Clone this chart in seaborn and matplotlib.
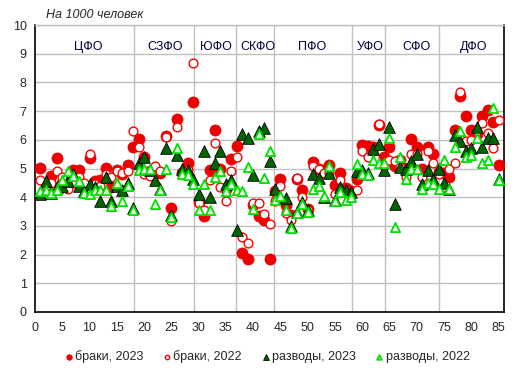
import numpy as np
import pandas as pd
import seaborn as sns
import matplotlib
matplotlib.use("Agg")
import matplotlib.pyplot as plt

# Номера регионов (1..85)
regions = list(range(1, 86))

# Браки, 2023 (на 1000 человек)
brak_2023 = [5.03, 4.40, 4.75, 5.35, 4.50, 4.55, 4.95, 4.95, 4.40, 5.35, 4.55, 4.60, 5.03, 4.35, 4.95, 4.80, 5.12, 5.74,
             6.03, 5.40, 4.90, 4.85, 4.83, 6.14, 3.61, 6.72, 4.85, 5.20, 7.30,
             3.82, 3.35, 4.95, 6.34, 4.97, 4.30, 5.33, 5.78,
             2.05, 1.85, 3.73, 3.36, 3.21, 1.85, 4.22,
             4.62, 3.73, 3.38, 4.62, 4.26, 3.60, 5.24, 4.97, 4.95, 5.12, 4.42, 4.84, 4.33, 4.20,
             4.62, 5.82, 5.78, 5.75, 6.50, 5.40,
             5.75, 5.08, 5.30, 5.00, 6.02, 5.74, 5.00, 5.76, 5.52, 4.88,
             4.84, 4.72, 6.34, 7.52, 6.83, 6.33, 6.20, 6.83, 7.03, 6.63, 5.12]

# Браки, 2022
brak_2022 = [4.60, 4.40, 4.50, 4.90, 4.70, 4.30, 4.50, 4.70, 4.50, 5.50, 4.45, 4.40, 4.80, 4.70, 4.90, 4.85, 4.90, 6.31,
             5.74, 4.80, 4.75, 5.08, 4.90, 6.10, 3.17, 6.46, 4.80, 4.95, 8.66,
             3.80, 3.55, 4.60, 5.88, 4.37, 3.88, 4.90, 5.40,
             2.60, 2.40, 3.80, 3.80, 3.42, 3.08, 3.87,
             4.39, 3.44, 3.20, 4.66, 4.00, 3.55, 5.08, 5.00, 4.83, 4.83, 4.12, 4.60, 4.20, 4.15,
             4.26, 5.60, 5.40, 5.60, 6.55, 5.10,
             5.30, 5.25, 5.05, 4.71, 5.52, 5.50, 4.71, 5.60, 5.18, 4.81,
             4.37, 5.00, 5.20, 7.68, 5.97, 6.00, 6.30, 6.57, 6.22, 5.70, 6.68]

# Разводы, 2023
razv_2023 = [4.10, 4.55, 4.15, 4.35, 4.40, 4.55, 4.80, 4.40, 4.20, 4.45, 4.35, 3.88, 4.70, 3.88, 4.40, 4.25, 4.50, 3.63,
             5.20, 5.40, 4.95, 4.60, 4.28, 5.70, 3.38, 5.47, 4.97, 4.95, 4.62,
             4.10, 5.60, 4.00, 5.20, 5.60, 4.45, 4.60, 2.87,
             6.20, 6.07, 4.77, 6.30, 6.40, 5.26, 4.30,
             4.00, 3.98, 2.99, 3.50, 3.85, 3.55, 4.80, 4.68, 4.02, 4.85, 3.90, 4.36, 4.26, 4.18,
             4.90, 4.95, 4.83, 5.67, 5.87, 4.95,
             6.46, 3.77, 5.06, 4.97, 5.27, 5.50, 4.47, 4.96, 4.63, 4.98,
             4.50, 4.30, 6.17, 5.97, 5.60, 5.70, 6.45, 5.76, 6.08, 6.08, 4.65]

# Разводы, 2022
razv_2022 = [4.20, 4.25, 4.15, 4.25, 4.60, 4.90, 4.75, 4.55, 4.15, 4.10, 4.25, 4.25, 4.25, 3.70, 4.48, 3.86, 4.38, 3.57,
             4.95, 4.98, 4.98, 3.78, 4.25, 4.97, 3.30, 5.70, 4.80, 4.78, 4.46,
             3.57, 4.47, 3.57, 4.71, 4.90, 4.20, 4.47, 4.25,
             4.20, 5.06, 3.58, 6.20, 4.68, 5.61, 3.90,
             4.04, 3.57, 2.93, 3.45, 3.76, 3.50, 4.27, 4.38, 4.05, 5.08, 3.88, 4.18, 3.90, 4.00,
             5.15, 4.80, 4.76, 5.30, 5.18, 5.20,
             6.08, 2.97, 5.39, 4.62, 5.00, 4.97, 4.27, 4.50, 4.45, 4.28,
             5.28, 4.27, 5.76, 6.29, 5.39, 5.48, 6.06, 5.18, 5.28, 7.12, 4.60]

# Федеральные округа: подпись, центр подписи, граница справа
okruga = ["ЦФО", "СЗФО", "ЮФО", "СКФО", "ПФО", "УФО", "СФО", "ДФО"]
okruga_x = [9.7, 23.8, 33.2, 40.9, 50.9, 61.4, 70.0, 80.4]
granicy = [18.2, 29.2, 36.9, 43.8, 58.1, 64.2, 74.0]

df = pd.DataFrame({"region": regions, "brak_2023": brak_2023, "brak_2022": brak_2022,
                   "razv_2023": razv_2023, "razv_2022": razv_2022})

sns.set_style("white")
plt.rcParams["font.family"] = ["Liberation Sans", "DejaVu Sans"]

fig = plt.figure(figsize=(5.19, 3.75), dpi=100)
ax = fig.add_axes([35 / 519, 1 - 312 / 375, 469 / 519, 287 / 375])

# Сетка
for yv in range(1, 11):
    ax.axhline(yv, color="#c0c0c0", lw=1, zorder=0)
for xv in granicy:
    ax.axvline(xv, color="#c0c0c0", lw=1, zorder=0)

sns.scatterplot(data=df, x="region", y="brak_2023", ax=ax, marker="o", s=64,
                facecolor="#ee0000", edgecolor="#dd0000", linewidth=0.5, label="браки, 2023", zorder=3)
sns.scatterplot(data=df, x="region", y="brak_2022", ax=ax, marker="o", s=40,
                facecolor="white", edgecolor="#ff0000", linewidth=1.0, label="браки, 2022", zorder=4)
sns.scatterplot(data=df, x="region", y="razv_2023", ax=ax, marker="^", s=70,
                facecolor="#006400", edgecolor="black", linewidth=0.6, label="разводы, 2023", zorder=5)
sns.scatterplot(data=df, x="region", y="razv_2022", ax=ax, marker="^", s=44,
                facecolor="#e8ffe8", edgecolor="#00e000", linewidth=1.3, label="разводы, 2022", zorder=6)

ax.set_xlim(0, 86)
ax.set_ylim(0, 10)
ax.set_xticks(range(0, 86, 5))
ax.set_yticks(range(0, 11))
ax.set_xlabel("")
ax.set_ylabel("")
ax.tick_params(axis="both", length=0, labelsize=9)
ax.tick_params(axis="x", pad=7)
ax.tick_params(axis="y", pad=6)

for side in ["left", "bottom", "right"]:
    ax.spines[side].set_color("black")
    ax.spines[side].set_linewidth(1.2)
ax.spines["top"].set_color("#c0c0c0")
ax.spines["top"].set_linewidth(1)

for name, xv in zip(okruga, okruga_x):
    ax.text(xv, 9.23, name, ha="center", va="center", fontsize=9, color="#000040")

fig.text(46 / 519, 1 - 15 / 375, "На 1000 человек", style="italic", fontsize=9, va="center")

handles, labels = ax.get_legend_handles_labels()
ax.get_legend().remove()
fig.legend(handles, labels, loc="center", bbox_to_anchor=(0.515, 0.048), ncol=4, frameon=False,
           fontsize=9, markerscale=0.5, handlelength=0.6, handletextpad=0.2, columnspacing=1.6)

plt.savefig("out.png", dpi=100)
